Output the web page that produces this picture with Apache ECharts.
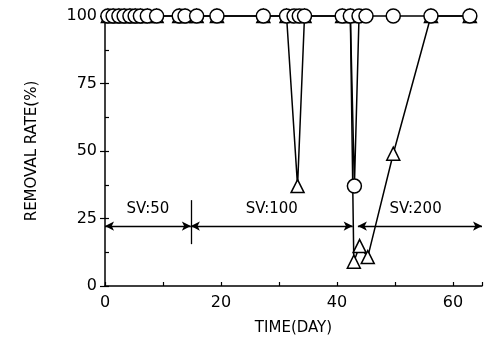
<!DOCTYPE html>
<html><head><meta charset="utf-8">
<script src="https://cdn.jsdelivr.net/npm/echarts@6/dist/echarts.min.js"></script>
<style>html,body{margin:0;padding:0;background:#fff}#c{width:485px;height:345px}</style>
</head><body><div id="c"></div>
<script>
// Circle series (days, removal rate %)
const circleDays = [0.5,1.4,2.4,3.3,4.3,5.2,6.1,7.3,8.9,12.8,13.8,15.8,19.3,27.3,31.3,32.6,33.5,34.4,40.9,42.3,43.0,43.8,45.0,49.7,56.2,62.9];
const circleVals = [100,100,100,100,100,100,100,100,100,100,100,100,100,100,100,100,100,100,100,100,37,100,100,100,100,100];
// Triangle series
const triDays = [0.5,1.4,2.4,3.3,4.3,5.2,6.1,7.3,8.9,12.8,13.8,15.8,19.3,27.3,31.3,33.2,34.4,40.9,42.3,42.9,43.9,45.3,49.7,56.2,62.9];
const triVals = [100,100,100,100,100,100,100,100,100,100,100,100,100,100,100,37,100,100,100,9,14.8,10.7,49,100,100];
// SV periods
const svLabels = ['SV:50','SV:100','SV:200'];
const svStart = [0, 14.8, 43.6];
const svEnd = [14.8, 42.7, 65];
const svLevel = 22.2;
const svTextLevel = 28.3;
const svDivider = {day: 14.8, from: 15.5, to: 31.8};
const xTicks = [0,20,40,60];
const yTicks = [0,25,50,75,100];

const ink = '#000';
const font = 'DejaVu Sans';
const circleData = circleDays.map((d,i)=>[d,circleVals[i]]);
const triData = triDays.map((d,i)=>[d,triVals[i]]);

const markLines = svLabels.map((s,i)=>[
  {coord:[svStart[i], svLevel]},
  {coord:[svEnd[i], svLevel]}
]);
markLines.push([{coord:[svDivider.day, svDivider.from], symbol:'none'},{coord:[svDivider.day, svDivider.to], symbol:'none'}]);

const chart = echarts.init(document.getElementById('c'), null, {renderer:'canvas'});
chart.setOption({
  animation:false,
  backgroundColor:'#fff',
  grid:{left:105, right:0, top:16, bottom:59},
  xAxis:{
    type:'value', min:0, max:65, interval:10,
    name:'TIME(DAY)', nameLocation:'middle', nameGap:35,
    nameTextStyle:{color:ink, fontFamily:font, fontSize:15},
    axisLine:{lineStyle:{color:ink, width:1.5}},
    axisTick:{inside:true, length:4, lineStyle:{color:ink, width:1.2}},
    axisLabel:{color:ink, fontFamily:font, fontSize:16, margin:9,
      formatter:v=> xTicks.includes(v) ? String(v) : ''},
    splitLine:{show:false}
  },
  yAxis:[{
    type:'value', min:0, max:100, interval:25,
    name:'REMOVAL RATE(%)', nameLocation:'middle', nameGap:65,
    nameTextStyle:{color:ink, fontFamily:font, fontSize:15},
    axisLine:{lineStyle:{color:ink, width:1.5}},
    axisTick:{length:5, lineStyle:{color:ink, width:1.2}},
    axisLabel:{color:ink, fontFamily:font, fontSize:16, margin:8,
      formatter:v=> yTicks.includes(v) ? String(v) : ''},
    splitLine:{show:false}
  },{
    type:'value', min:0, max:100, interval:12.5, position:'left',
    axisLine:{show:false},
    axisTick:{inside:true, length:4, lineStyle:{color:ink, width:1.2}},
    axisLabel:{show:false}, splitLine:{show:false}
  }],
  series:[
    {
      type:'line', data:triData, yAxisIndex:0, clip:false, z:2,
      symbol:'triangle', symbolSize:13,
      lineStyle:{color:ink, width:1.5},
      itemStyle:{color:'#fff', borderColor:ink, borderWidth:1.5}
    },
    {
      type:'line', data:circleData, yAxisIndex:0, clip:false, z:3,
      symbol:'circle', symbolSize:14,
      lineStyle:{color:ink, width:1.5},
      itemStyle:{color:'#fff', borderColor:ink, borderWidth:1.5}
    },
    {
      type:'scatter', data:[], yAxisIndex:0, z:1,
      markLine:{
        silent:true, symbol:['arrow','arrow'], symbolSize:[7,9],
        label:{show:false},
        lineStyle:{color:ink, width:1.3, type:'solid'},
        data:markLines
      }
    },
    {
      type:'scatter', yAxisIndex:0, symbolSize:1, z:4,
      itemStyle:{opacity:0},
      data: svLabels.map((s,i)=>({value:[(svStart[i]+Math.min(svEnd[i],63.5))/2, svTextLevel], name:s})),
      label:{show:true, position:'inside', opacity:1, formatter:p=>p.name, color:ink, fontFamily:font, fontSize:15}
    }
  ]
});
</script></body></html>
